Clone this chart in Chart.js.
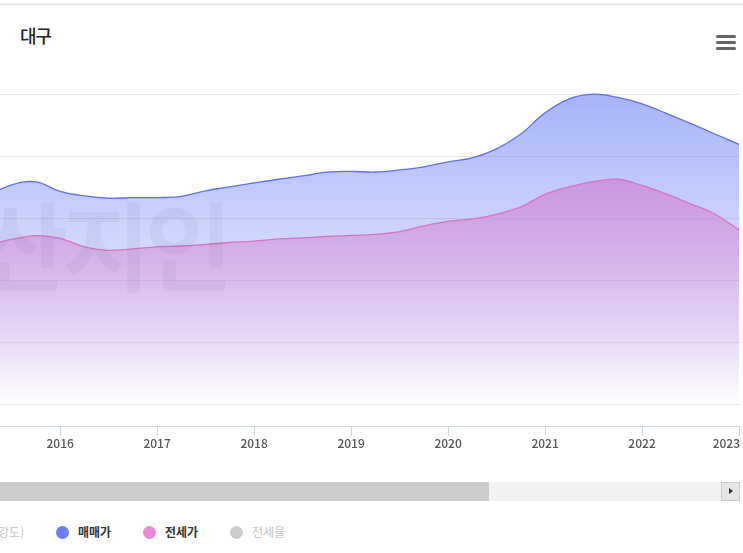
<!DOCTYPE html>
<html lang="ko">
<head>
<meta charset="utf-8">
<script src="https://cdn.jsdelivr.net/npm/chart.js@4/dist/chart.umd.min.js"></script>
<style>
  html, body { margin: 0; padding: 0; background: #fff; }
  body { width: 743px; height: 553px; overflow: hidden; position: relative; font-family: "Noto Sans CJK KR", "Noto Sans", sans-serif; }
  #topline { position: absolute; left: 0; top: 3px; width: 743px; height: 1px; background: #eef0f5; border-bottom: 1px solid #dde2ec; }
  #title { position: absolute; left: 20px; top: 22px; font-size: 18px; font-weight: 500; color: #222; letter-spacing: -1px; line-height: 26px; }
  .menu { position: absolute; left: 716px; width: 20px; height: 3px; border-radius: 1.5px; background: #666; }
  #chart { position: absolute; left: 0; top: 0; }
  #wm { position: absolute; left: -20px; top: 182px; font-size: 96px; font-weight: 700; line-height: 120px; letter-spacing: -6px; color: rgba(90, 90, 125, 0.07); pointer-events: none; white-space: nowrap; }
  #track { position: absolute; left: 0; top: 482px; width: 721px; height: 19px; background: #f2f2f2; }
  #thumb { position: absolute; left: 0; top: 482px; width: 489px; height: 19px; background: #cccccc; }
  #btn { position: absolute; left: 721px; top: 482px; width: 17px; height: 17px; background: #e6e6e6; border: 1px solid #cccccc; }
  #btn::after { content: ""; position: absolute; left: 7px; top: 5px; border-left: 4px solid #333; border-top: 3.5px solid transparent; border-bottom: 3.5px solid transparent; }
  .lg { position: absolute; top: 522px; font-size: 12px; font-weight: 700; color: #333; line-height: 20px; white-space: nowrap; }
  .lg.off { color: #c4c4c4; font-weight: 400; }
  .dot { position: absolute; top: 526px; width: 13px; height: 13px; border-radius: 50%; }
</style>
</head>
<body>
<div id="topline"></div>
<div id="title">대구</div>
<div class="menu" style="top:35px"></div>
<div class="menu" style="top:41px"></div>
<div class="menu" style="top:47px"></div>
<canvas id="chart" width="743" height="456"></canvas>
<div id="wm">산지인</div>
<div id="track"></div>
<div id="thumb"></div>
<div id="btn"></div>
<div class="lg off" style="left:-6px">(강도)</div>
<div class="dot" style="left:56px;background:#6b7cf6"></div>
<div class="lg" style="left:78px">매매가</div>
<div class="dot" style="left:143px;background:#e88bd4"></div>
<div class="lg" style="left:165px">전세가</div>
<div class="dot" style="left:230px;background:#cccccc"></div>
<div class="lg off" style="left:252px">전세율</div>
<script>
// Period (decimal year, quarterly)
const periods = [2015.25, 2015.5, 2015.75, 2016, 2016.25, 2016.5, 2016.75, 2017, 2017.25, 2017.5, 2017.75, 2018,
  2018.25, 2018.5, 2018.75, 2019, 2019.25, 2019.5, 2019.75, 2020, 2020.25, 2020.5, 2020.75, 2021,
  2021.25, 2021.5, 2021.75, 2022, 2022.25, 2022.5, 2022.75, 2023];
// 매매가
const saleValues = [1011, 1065, 1079, 1033, 1011, 1000, 1003, 1003, 1009, 1036, 1055, 1074,
  1092, 1108, 1126, 1130, 1127, 1137, 1152, 1176, 1195, 1239, 1311, 1413,
  1481, 1504, 1488, 1457, 1411, 1362, 1311, 1261];
// 전세가
const jeonseValues = [774, 801, 819, 806, 765, 748, 755, 765, 769, 777, 786, 793,
  803, 808, 815, 820, 825, 838, 866, 888, 900, 922, 958, 1019,
  1055, 1080, 1092, 1062, 1021, 973, 924, 847];
const yearTicks = [2016, 2017, 2018, 2019, 2020, 2021, 2022, 2023];
const yGridValues = [0, 300, 600, 900, 1200, 1500];

function grad(chart, rgb, topValue, topAlpha) {
  const y = chart.scales.y;
  const area = chart.chartArea;
  if (!y || !area) return 'rgba(' + rgb + ',0.3)';
  const y0 = y.getPixelForValue(topValue), y1 = y.getPixelForValue(0);
  if (!isFinite(y0) || !isFinite(y1)) return 'rgba(' + rgb + ',0.3)';
  const g = chart.ctx.createLinearGradient(0, y0, 0, y1);
  g.addColorStop(0, 'rgba(' + rgb + ',' + topAlpha + ')');
  g.addColorStop(1, 'rgba(' + rgb + ',0)');
  return g;
}

const xLabels = {
  id: 'xLabels',
  afterDraw(chart) {
    const s = chart.scales.x, ctx = chart.ctx;
    ctx.save();
    ctx.font = '500 12px "Noto Sans CJK KR", "Noto Sans", sans-serif';
    ctx.fillStyle = '#555555';
    ctx.textBaseline = 'middle';
    s.ticks.forEach(t => {
      const x = s.getPixelForValue(t.value);
      const txt = String(t.value);
      const w = ctx.measureText(txt).width;
      if (x + w / 2 > chart.width - 2) { ctx.textAlign = 'right'; ctx.fillText(txt, x + 1, 443); }
      else { ctx.textAlign = 'center'; ctx.fillText(txt, x, 443); }
    });
    ctx.restore();
  }
};

new Chart(document.getElementById('chart'), {
  type: 'line',
  data: {
    datasets: [
      {
        label: '전세가',
        data: periods.map((p, i) => ({ x: p, y: jeonseValues[i] })),
        order: 0,
        borderColor: '#dc6ec8',
        borderWidth: 1.3,
        fill: 'origin',
        backgroundColor: ctx => grad(ctx.chart, '210,110,199', 1100, 0.55),
        pointRadius: 0,
        tension: 0.4
      },
      {
        label: '매매가',
        data: periods.map((p, i) => ({ x: p, y: saleValues[i] })),
        order: 1,
        borderColor: '#6070f0',
        borderWidth: 1.3,
        fill: 'origin',
        backgroundColor: ctx => grad(ctx.chart, '100,120,245', 1500, 0.56),
        pointRadius: 0,
        tension: 0.4
      }
    ]
  },
  options: {
    responsive: false,
    animation: false,
    devicePixelRatio: 1,
    layout: { padding: { top: 85, left: 0, right: 3, bottom: 0 } },
    plugins: { legend: { display: false }, tooltip: { enabled: false } },
    scales: {
      x: {
        type: 'linear',
        min: 2015.38,
        max: 2023.01,
        afterBuildTicks: s => { s.ticks = yearTicks.map(v => ({ value: v })); },
        ticks: { display: false },
        grid: { drawOnChartArea: false, drawTicks: true, tickLength: 10, color: '#ccd6eb' },
        border: { color: '#ccd6eb' },
        afterFit: s => { s.height = 30; }
      },
      y: {
        min: -102,
        max: 1548,
        afterBuildTicks: s => { s.ticks = yGridValues.map(v => ({ value: v })); },
        ticks: { display: false },
        grid: { color: '#e6e6e6', drawTicks: false },
        border: { display: false },
        afterFit: s => { s.width = 0; }
      }
    }
  },
  plugins: [xLabels]
});
</script>
</body>
</html>
